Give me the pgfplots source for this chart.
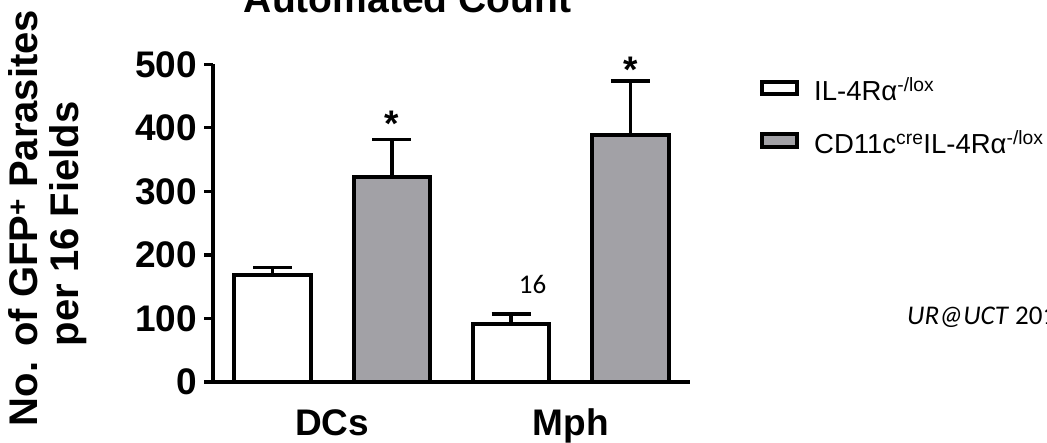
\documentclass[border=0pt]{standalone}
\usepackage{pgfplots}
\usepackage{pgfplotstable}
\pgfplotsset{compat=1.18}
\usepackage{fontspec}
\setmainfont{Liberation Sans}
\newfontfamily\carlito{Carlito}
\definecolor{bargrey}{RGB}{162,161,166}
\pgfplotsset{boxlegend/.style={legend image code/.code={\draw[##1, line width=4pt] (0pt,6.6pt) rectangle (35pt,19.2pt);}}}

\pgfplotstableread{
x y e
1 168 12
3 91 16
}\wt
\pgfplotstableread{
x y e
2 323 59
4 389 85
}\ko

\begin{document}
\begin{tikzpicture}
\useasboundingbox (0pt,0pt) rectangle (1047pt,442pt);
\begin{axis}[
  at={(213pt,60pt)}, anchor=south west,
  scale only axis, width=477pt, height=317.7pt,
  xmin=0.5, xmax=4.5, ymin=0, ymax=500,
  clip=false,
  axis lines=left,
  axis line style={-, line width=3.3pt, black},
  ytick={0,100,...,500},
  xtick={1.5,3.5}, xticklabels={DCs,Mph},
  xtick style={draw=none},
  ytick style={line width=3.3pt, black},
  tick align=outside, major tick length=9pt,
  /pgf/number format/assume math mode=true,
  yticklabel style={font=\bfseries\fontsize{37}{40}\selectfont, inner sep=0pt, xshift=-7pt},
  xticklabel style={font=\bfseries\fontsize{37}{40}\selectfont, anchor=base, inner sep=0pt, yshift=-44pt},
  legend style={at={(rel axis cs:1.1468,0.9638)}, anchor=north west, draw=none, fill=none,
    inner sep=0pt, font=\fontsize{27.5}{30}\selectfont, row sep=24pt,
    cells={anchor=base west},
    /tikz/every odd column/.append style={column sep=13pt}},
]
\addplot[ybar, bar shift=0pt, bar width=0.64, fill=white, draw=black, line width=4pt, boxlegend,
  error bars/.cd, y dir=plus, y explicit,
  error bar style={line width=3.5pt, black},
  error mark options={rotate=90, mark size=19.5pt, line width=3.5pt, black}]
  table[x=x, y=y, y error=e]{\wt};
\addlegendentry{IL-4Rα\textsuperscript{-/lox}}
\addplot[ybar, bar shift=0pt, bar width=0.64, fill=bargrey, draw=black, line width=4pt, boxlegend,
  error bars/.cd, y dir=plus, y explicit,
  error bar style={line width=3.5pt, black},
  error mark options={rotate=90, mark size=19.5pt, line width=3.5pt, black}]
  table[x=x, y=y, y error=e]{\ko};
\addlegendentry{CD11c\textsuperscript{cre}IL-4Rα\textsuperscript{-/lox}}
\node[anchor=base, inner sep=0pt, font=\bfseries\fontsize{37}{40}\selectfont] at (axis cs:2,386) {*};
\node[anchor=base, inner sep=0pt, font=\bfseries\fontsize{37}{40}\selectfont] at (axis cs:4,472) {*};
\node[anchor=base, inner sep=0pt, font=\carlito\fontsize{27}{30}\selectfont] at (axis cs:3.18,140) {16};
\end{axis}
\node[anchor=base, inner sep=0pt, font=\bfseries\fontsize{39}{42}\selectfont] at (407.5pt,429pt) {Automated Count};
\node[anchor=base, inner sep=0pt, rotate=90, font=\bfseries\fontsize{40}{42}\selectfont] at (37pt,224pt) {No. of GFP\textsuperscript{+} Parasites};
\node[anchor=base, inner sep=0pt, rotate=90, font=\bfseries\fontsize{40}{42}\selectfont] at (78pt,218pt) {per 16 Fields};
\node[anchor=base west, inner sep=0pt, font=\carlito\fontsize{27}{30}\selectfont] at (907pt,117pt) {\textit{UR@UCT} 2014};
\end{tikzpicture}
\end{document}
